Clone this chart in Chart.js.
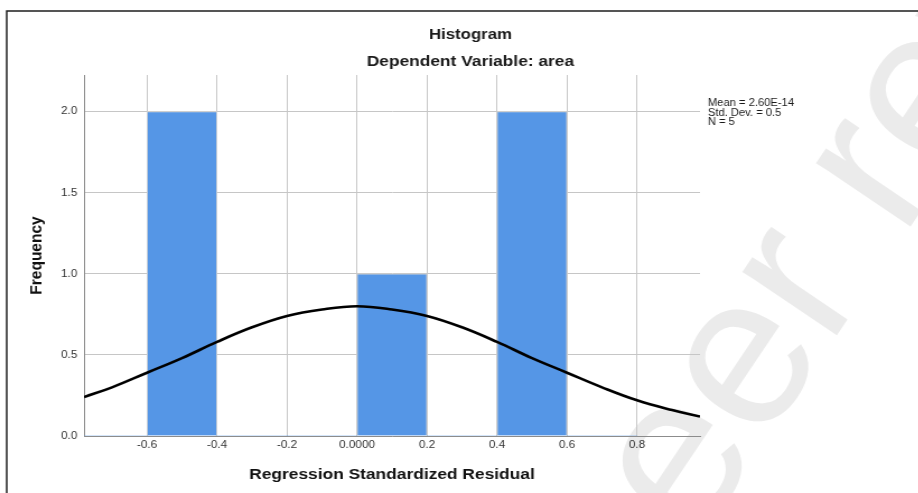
<!DOCTYPE html>
<html>
<head>
<meta charset="utf-8">
<script src="https://cdn.jsdelivr.net/npm/chart.js@4.4.1/dist/chart.umd.min.js"></script>
<style>
  html, body { margin: 0; padding: 0; background: #fff; overflow: hidden; }
  /* the original SPSS export is slightly stretched horizontally */
  #wrap { width: 820px; height: 493px; transform: scaleX(1.12); transform-origin: 0 0; }
</style>
</head>
<body>
<div id="wrap"><canvas id="hist" width="820" height="493"></canvas></div>
<script>
const STRETCH = 1.12;

// histogram bins (width 0.2)
const binCenters  = [-0.7, -0.5, -0.3, -0.1, 0.1, 0.3, 0.5, 0.7];
const frequencies = [0, 2, 0, 0, 1, 0, 2, 0];

// normal curve
const curveX = [-0.78, -0.7, -0.6, -0.5, -0.4, -0.3, -0.2, -0.1, 0.0, 0.1, 0.2, 0.3, 0.4, 0.5, 0.6, 0.7, 0.8, 0.9, 0.98];
const curveY = [0.24, 0.30, 0.39, 0.48, 0.58, 0.67, 0.74, 0.78, 0.80, 0.78, 0.74, 0.67, 0.58, 0.48, 0.39, 0.30, 0.22, 0.16, 0.12];

const xTicks      = [-0.6, -0.4, -0.2, 0, 0.2, 0.4, 0.6, 0.8];
const xTickLabels = ['-0.6', '-0.4', '-0.2', '0.0000', '0.2', '0.4', '0.6', '0.8'];
const yTicks      = [0, 0.5, 1, 1.5, 2];
const yTickLabels = ['0.0', '0.5', '1.0', '1.5', '2.0'];

const statsLines = ['Mean = 2.60E-14', 'Std. Dev. = 0.5', 'N = 5'];

const FONT = '"Liberation Sans", Arial, sans-serif';

const decorPlugin = {
  id: 'decor',
  beforeDraw(chart) {
    const ctx = chart.ctx;
    // watermark, drawn in screen space
    ctx.save();
    ctx.scale(1 / STRETCH, 1);
    ctx.translate(628, 645);
    ctx.rotate(-56 * Math.PI / 180);
    ctx.font = '215px ' + FONT;
    ctx.fillStyle = '#ebebeb';
    ctx.fillText('peer review', 0, 0);
    ctx.restore();
  },
  afterDraw(chart) {
    const ctx = chart.ctx;
    ctx.save();
    // frame
    ctx.strokeStyle = '#1e1e1e';
    ctx.lineWidth = 1.5;
    ctx.beginPath();
    ctx.moveTo(chart.width, 11);
    ctx.lineTo(6, 11);
    ctx.lineTo(6, chart.height);
    ctx.stroke();
    // titles
    ctx.fillStyle = '#1a1a1a';
    ctx.textAlign = 'center';
    ctx.textBaseline = 'middle';
    ctx.font = 'bold 15px ' + FONT;
    ctx.fillText('Histogram', 420, 34.5);
    ctx.font = 'bold 15.5px ' + FONT;
    ctx.fillText('Dependent Variable: area', 420, 62);
    // stats box
    ctx.textAlign = 'left';
    ctx.textBaseline = 'alphabetic';
    ctx.font = '10px ' + FONT;
    const baselines = [105.7, 115.5, 125];
    statsLines.forEach((s, i) => ctx.fillText(s, 632, baselines[i]));
    ctx.restore();
  }
};

new Chart(document.getElementById('hist'), {
  type: 'bar',
  data: {
    datasets: [
      {
        type: 'line',
        data: curveX.map((x, i) => ({ x, y: curveY[i] })),
        borderColor: '#000',
        borderWidth: 2.6,
        pointRadius: 0,
        tension: 0.4,
        fill: false,
        order: 0
      },
      {
        type: 'bar',
        data: binCenters.map((x, i) => ({ x, y: frequencies[i] })),
        backgroundColor: '#5596e6',
        borderColor: '#d4d4d4',
        borderWidth: c => (c.raw && c.raw.y > 0 ? 1 : 0),
        borderSkipped: 'bottom',
        barPercentage: 1,
        categoryPercentage: 1,
        order: 1
      }
    ]
  },
  options: {
    responsive: false,
    animation: false,
    devicePixelRatio: 1,
    layout: { padding: { left: 0, top: 75, right: 195, bottom: 0 } },
    plugins: { legend: { display: false }, tooltip: { enabled: false } },
    scales: {
      x: {
        type: 'linear',
        min: -0.78,
        max: 0.98,
        offset: false,
        afterBuildTicks: s => { s.ticks = xTicks.map(v => ({ value: v })); },
        afterFit: s => { s.height = 57; },
        grid: { color: '#c6c6c6', lineWidth: 1, drawTicks: false, offset: false },
        border: { display: true, color: '#8c8c8c', width: 1 },
        ticks: {
          autoSkip: false,
          maxRotation: 0,
          padding: 3,
          color: '#333',
          font: { family: FONT, size: 10.5 },
          callback: (v, i) => xTickLabels[i]
        },
        title: {
          display: true,
          text: 'Regression Standardized Residual',
          color: '#111',
          font: { family: FONT, size: 15.5, weight: 'bold' },
          padding: { top: 4, bottom: 8.7 }
        }
      },
      y: {
        min: 0,
        max: 2.225,
        afterBuildTicks: s => { s.ticks = yTicks.map(v => ({ value: v })); },
        afterFit: s => { s.width = 75; },
        grid: { color: '#c6c6c6', lineWidth: 1, drawTicks: false },
        border: { display: true, color: '#8c8c8c', width: 1 },
        ticks: {
          padding: 6,
          color: '#333',
          font: { family: FONT, size: 10.5 },
          callback: (v, i) => yTickLabels[i]
        },
        title: {
          display: true,
          text: 'Frequency',
          color: '#111',
          font: { family: FONT, size: 15.5, weight: 'bold' },
          padding: { top: 23.7, bottom: 0 }
        }
      }
    }
  },
  plugins: [decorPlugin]
});
</script>
</body>
</html>
